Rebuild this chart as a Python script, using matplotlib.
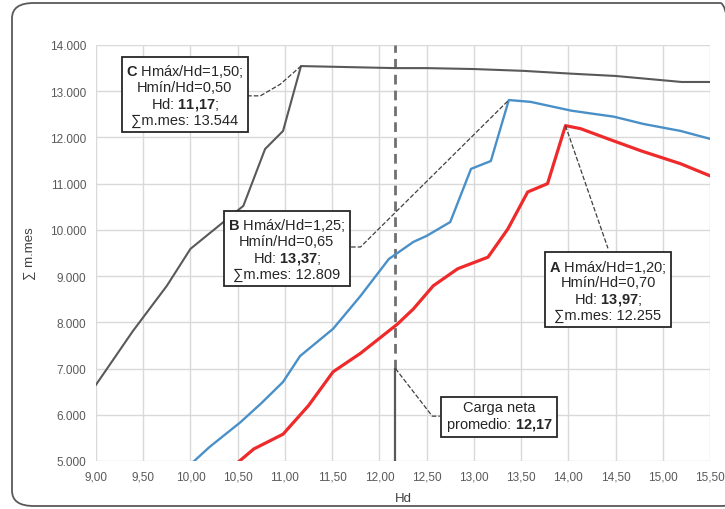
import matplotlib
matplotlib.use("Agg")
import matplotlib.pyplot as plt
from matplotlib.patches import FancyBboxPatch

plt.rcParams['font.family'] = ['Liberation Sans', 'DejaVu Sans']
plt.rcParams['mathtext.fontset'] = 'custom'
plt.rcParams['mathtext.rm'] = 'Liberation Sans'
plt.rcParams['mathtext.bf'] = 'Liberation Sans:bold'

# Curve C: Hmax/Hd=1.50, Hmin/Hd=0.50
c_x = [9.00, 9.39, 9.75, 10.00, 10.56, 10.79, 10.98, 11.17, 12.17, 12.50, 13.00, 13.53, 14.03, 14.50, 15.20, 15.50]
c_y = [6650, 7810, 8790, 9590, 10520, 11750, 12140, 13544, 13500, 13500, 13480, 13440, 13380, 13330, 13200, 13200]

# Curve B: Hmax/Hd=1.25, Hmin/Hd=0.65
b_x = [10.04, 10.20, 10.53, 10.75, 10.98, 11.16, 11.51, 11.80, 12.10, 12.36, 12.50, 12.75, 12.97, 13.18, 13.37, 13.60, 14.03, 14.27, 14.48, 14.80, 15.19, 15.50]
b_y = [5000, 5300, 5840, 6250, 6710, 7270, 7860, 8570, 9370, 9740, 9870, 10170, 11320, 11490, 12809, 12770, 12580, 12510, 12450, 12290, 12140, 11970]

# Curve A: Hmax/Hd=1.20, Hmin/Hd=0.70
a_x = [10.52, 10.67, 10.98, 11.25, 11.51, 11.80, 12.19, 12.36, 12.57, 12.83, 13.15, 13.36, 13.57, 13.78, 13.97, 14.13, 14.42, 14.77, 15.19, 15.50]
a_y = [5000, 5260, 5580, 6200, 6930, 7330, 7960, 8290, 8790, 9160, 9410, 10020, 10820, 11000, 12255, 12190, 11970, 11710, 11430, 11170]

hd_mean = 12.17

x_ticks = [9.0, 9.5, 10.0, 10.5, 11.0, 11.5, 12.0, 12.5, 13.0, 13.5, 14.0, 14.5, 15.0, 15.5]
x_labels = ["9,00", "9,50", "10,00", "10,50", "11,00", "11,50", "12,00", "12,50", "13,00", "13,50", "14,00", "14,50", "15,00", "15,50"]
y_ticks = [5000, 6000, 7000, 8000, 9000, 10000, 11000, 12000, 13000, 14000]
y_labels = ["5.000", "6.000", "7.000", "8.000", "9.000", "10.000", "11.000", "12.000", "13.000", "14.000"]

fig = plt.figure(figsize=(7.25, 5.1), dpi=100)
border = FancyBboxPatch((12/725, 3/510), 730/725, 503/510,
                        boxstyle="round,pad=0,rounding_size=0.03",
                        transform=fig.transFigure, fill=False,
                        edgecolor="#595959", linewidth=1.3, clip_on=False)
fig.patches.append(border)

ax = fig.add_axes([96/725, 1 - 462/510, (710 - 96)/725, (462 - 46)/510])
ax.set_xlim(9.0, 15.5)
ax.set_ylim(5000, 14000)
ax.set_xticks(x_ticks)
ax.set_xticklabels(x_labels)
ax.set_yticks(y_ticks)
ax.set_yticklabels(y_labels)
for s in ax.spines.values():
    s.set_visible(False)
ax.grid(True, color="#d9d9d9", linewidth=1.0)
ax.set_axisbelow(True)
ax.tick_params(length=0, labelsize=8.5, labelcolor="#595959", pad=7)

ax.plot(c_x, c_y, color="#595959", linewidth=1.5, zorder=3)
ax.plot(b_x, b_y, color="#4a90c8", linewidth=1.7, zorder=3)
ax.plot(a_x, a_y, color="#ee2a2a", linewidth=2.3, zorder=3)

ax.plot([hd_mean, hd_mean], [7000, 14000], color="#707070", linewidth=2.0,
        linestyle=(0, (3.5, 2.2)), zorder=2)
ax.plot([hd_mean, hd_mean], [5000, 7000], color="#595959", linewidth=1.6, zorder=2)

ax.set_xlabel("Hd", fontsize=9.5, color="#404040", labelpad=7)
ax.set_ylabel("∑ m.mes", fontsize=9.5, color="#404040", labelpad=10)

box = dict(boxstyle="square,pad=0.3", facecolor="white", edgecolor="#262626", linewidth=1.3)
fs = 10.5
ls = 1.08
lead = dict(color="#404040", linewidth=0.9, linestyle="--", zorder=4)

# Box C
ax.plot([10.60, 10.74, 10.95, 11.17], [12900, 12900, 13150, 13544], **lead)
ax.text(9.94, 12920,
        r"$\mathbf{C}$ Hmáx/Hd=1,50;" "\n" "Hmín/Hd=0,50" "\n" r"Hd: $\mathbf{11{,}17}$;" "\n" "∑m.mes: 13.544",
        ha="center", va="center", fontsize=fs, color="#262626", bbox=box, zorder=5, linespacing=ls)

# Box B
ax.plot([11.70, 11.80, 13.37], [9630, 9630, 12809], **lead)
ax.text(11.02, 9590,
        r"$\mathbf{B}$ Hmáx/Hd=1,25;" "\n" "Hmín/Hd=0,65" "\n" r"Hd: $\mathbf{13{,}37}$;" "\n" "∑m.mes: 12.809",
        ha="center", va="center", fontsize=fs, color="#262626", bbox=box, zorder=5, linespacing=ls)

# Box A
ax.plot([13.97, 14.42], [12255, 9600], **lead)
ax.text(14.42, 8700,
        r"$\mathbf{A}$ Hmáx/Hd=1,20;" "\n" "Hmín/Hd=0,70" "\n" r"Hd: $\mathbf{13{,}97}$;" "\n" "∑m.mes: 12.255",
        ha="center", va="center", fontsize=fs, color="#262626", bbox=box, zorder=5, linespacing=ls)

# Carga neta box
ax.plot([hd_mean, 12.56, 12.64], [7000, 5970, 5970], **lead)
ax.text(13.27, 5970,
        "Carga neta" "\n" r"promedio: $\mathbf{12{,}17}$",
        ha="center", va="center", fontsize=fs, color="#262626", bbox=box, zorder=5, linespacing=ls)

fig.savefig("out.png", dpi=100)
